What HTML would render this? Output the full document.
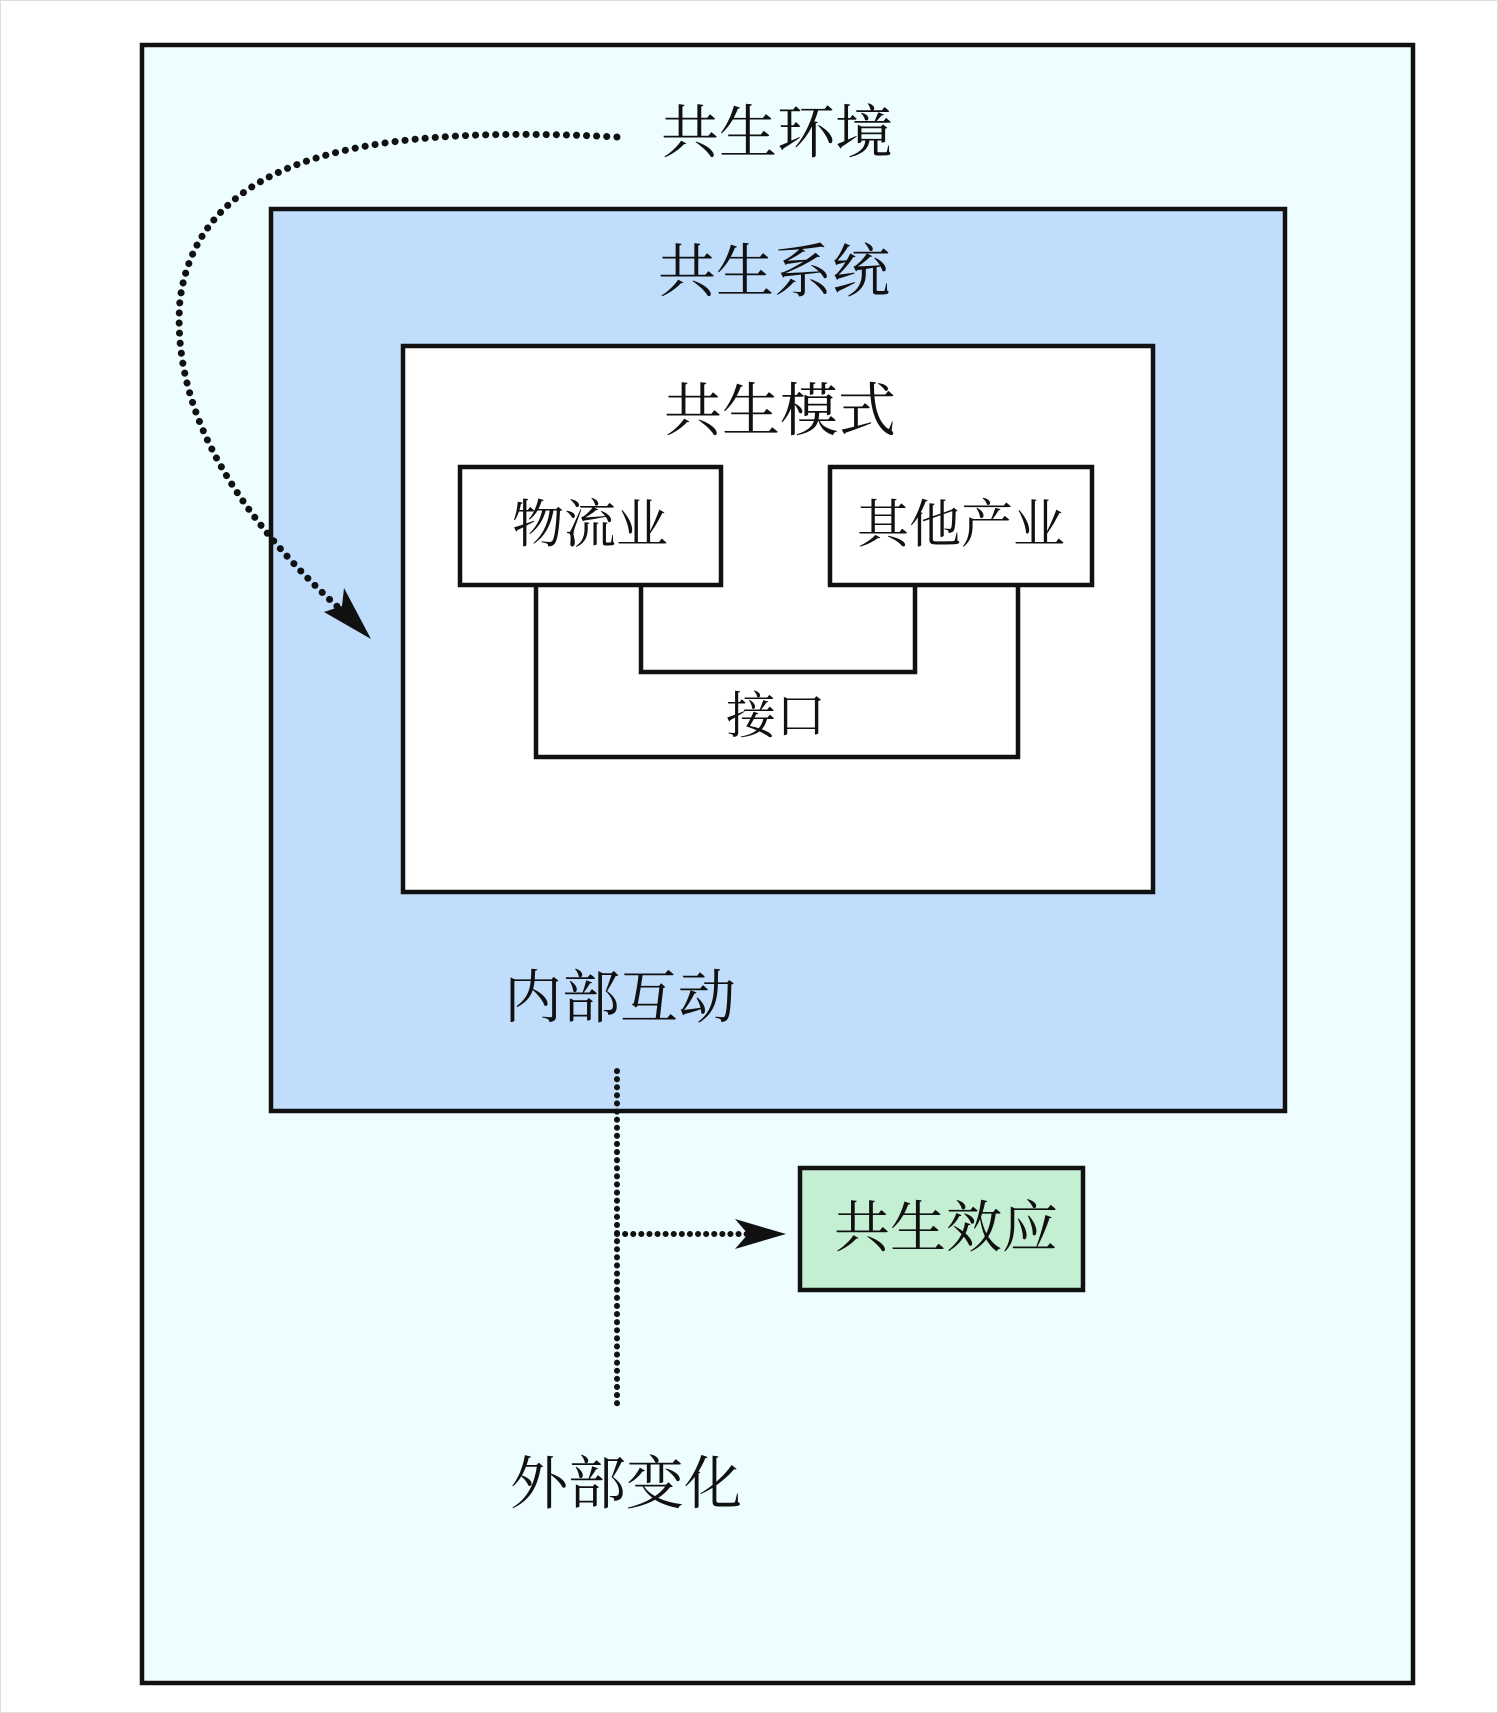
<!DOCTYPE html>
<html><head><meta charset="utf-8"><style>
html,body{margin:0;padding:0;background:#fff}
svg{display:block}
text{font-family:"Liberation Serif","Noto Serif CJK SC",serif;fill:#111;text-anchor:middle;dominant-baseline:central}
</style></head><body>
<svg width="1498" height="1713" viewBox="0 0 1498 1713" xmlns="http://www.w3.org/2000/svg">
<rect x="0.5" y="0.5" width="1497" height="1712" fill="#fff" stroke="#ddd" stroke-width="1"/>
<rect x="142" y="45" width="1271" height="1638" fill="#eefdff" stroke="#111" stroke-width="4.5"/>
<rect x="271" y="209" width="1014" height="902" fill="#c0ddfb" stroke="#111" stroke-width="4.5"/>
<rect x="403" y="346" width="750" height="546" fill="#fff" stroke="#111" stroke-width="4.5"/>
<rect x="460" y="467" width="261" height="118" fill="#fff" stroke="#111" stroke-width="4.5"/>
<rect x="830" y="467" width="262" height="118" fill="#fff" stroke="#111" stroke-width="4.5"/>
<polyline points="641,585 641,672 915,672 915,585" fill="none" stroke="#111" stroke-width="4.5"/>
<polyline points="536,585 536,757 1018,757 1018,585" fill="none" stroke="#111" stroke-width="4.5"/>
<rect x="800" y="1168" width="283" height="122" fill="#c4efd3" stroke="#111" stroke-width="4.5"/>
<text x="777" y="133" font-size="58">共生环境</text>
<text x="774" y="272" font-size="58">共生系统</text>
<text x="780" y="411" font-size="58">共生模式</text>
<text x="590" y="526" font-size="52">物流业</text>
<text x="961" y="526" font-size="52">其他产业</text>
<text x="776" y="716" font-size="50">接口</text>
<text x="620" y="998" font-size="58">内部互动</text>
<text x="626" y="1484" font-size="58">外部变化</text>
<text x="946" y="1229" font-size="56">共生效应</text>
<path d="M617 137 C 380 125, 200 150, 180 300 C 170 420, 250 530, 350 618" fill="none" stroke="#111" stroke-width="7" stroke-dasharray="0.1 10" stroke-linecap="round"/>
<polygon points="371,639 324,612 342,606 344,588" fill="#111"/>
<line x1="617" y1="1071" x2="617" y2="1409" stroke="#111" stroke-width="6" stroke-dasharray="0.1 8" stroke-linecap="round"/>
<line x1="617" y1="1234" x2="748" y2="1234" stroke="#111" stroke-width="6" stroke-dasharray="0.1 8" stroke-linecap="round"/>
<polygon points="786,1234 735,1219 748,1234 735,1249" fill="#111"/>
</svg>
</body></html>
